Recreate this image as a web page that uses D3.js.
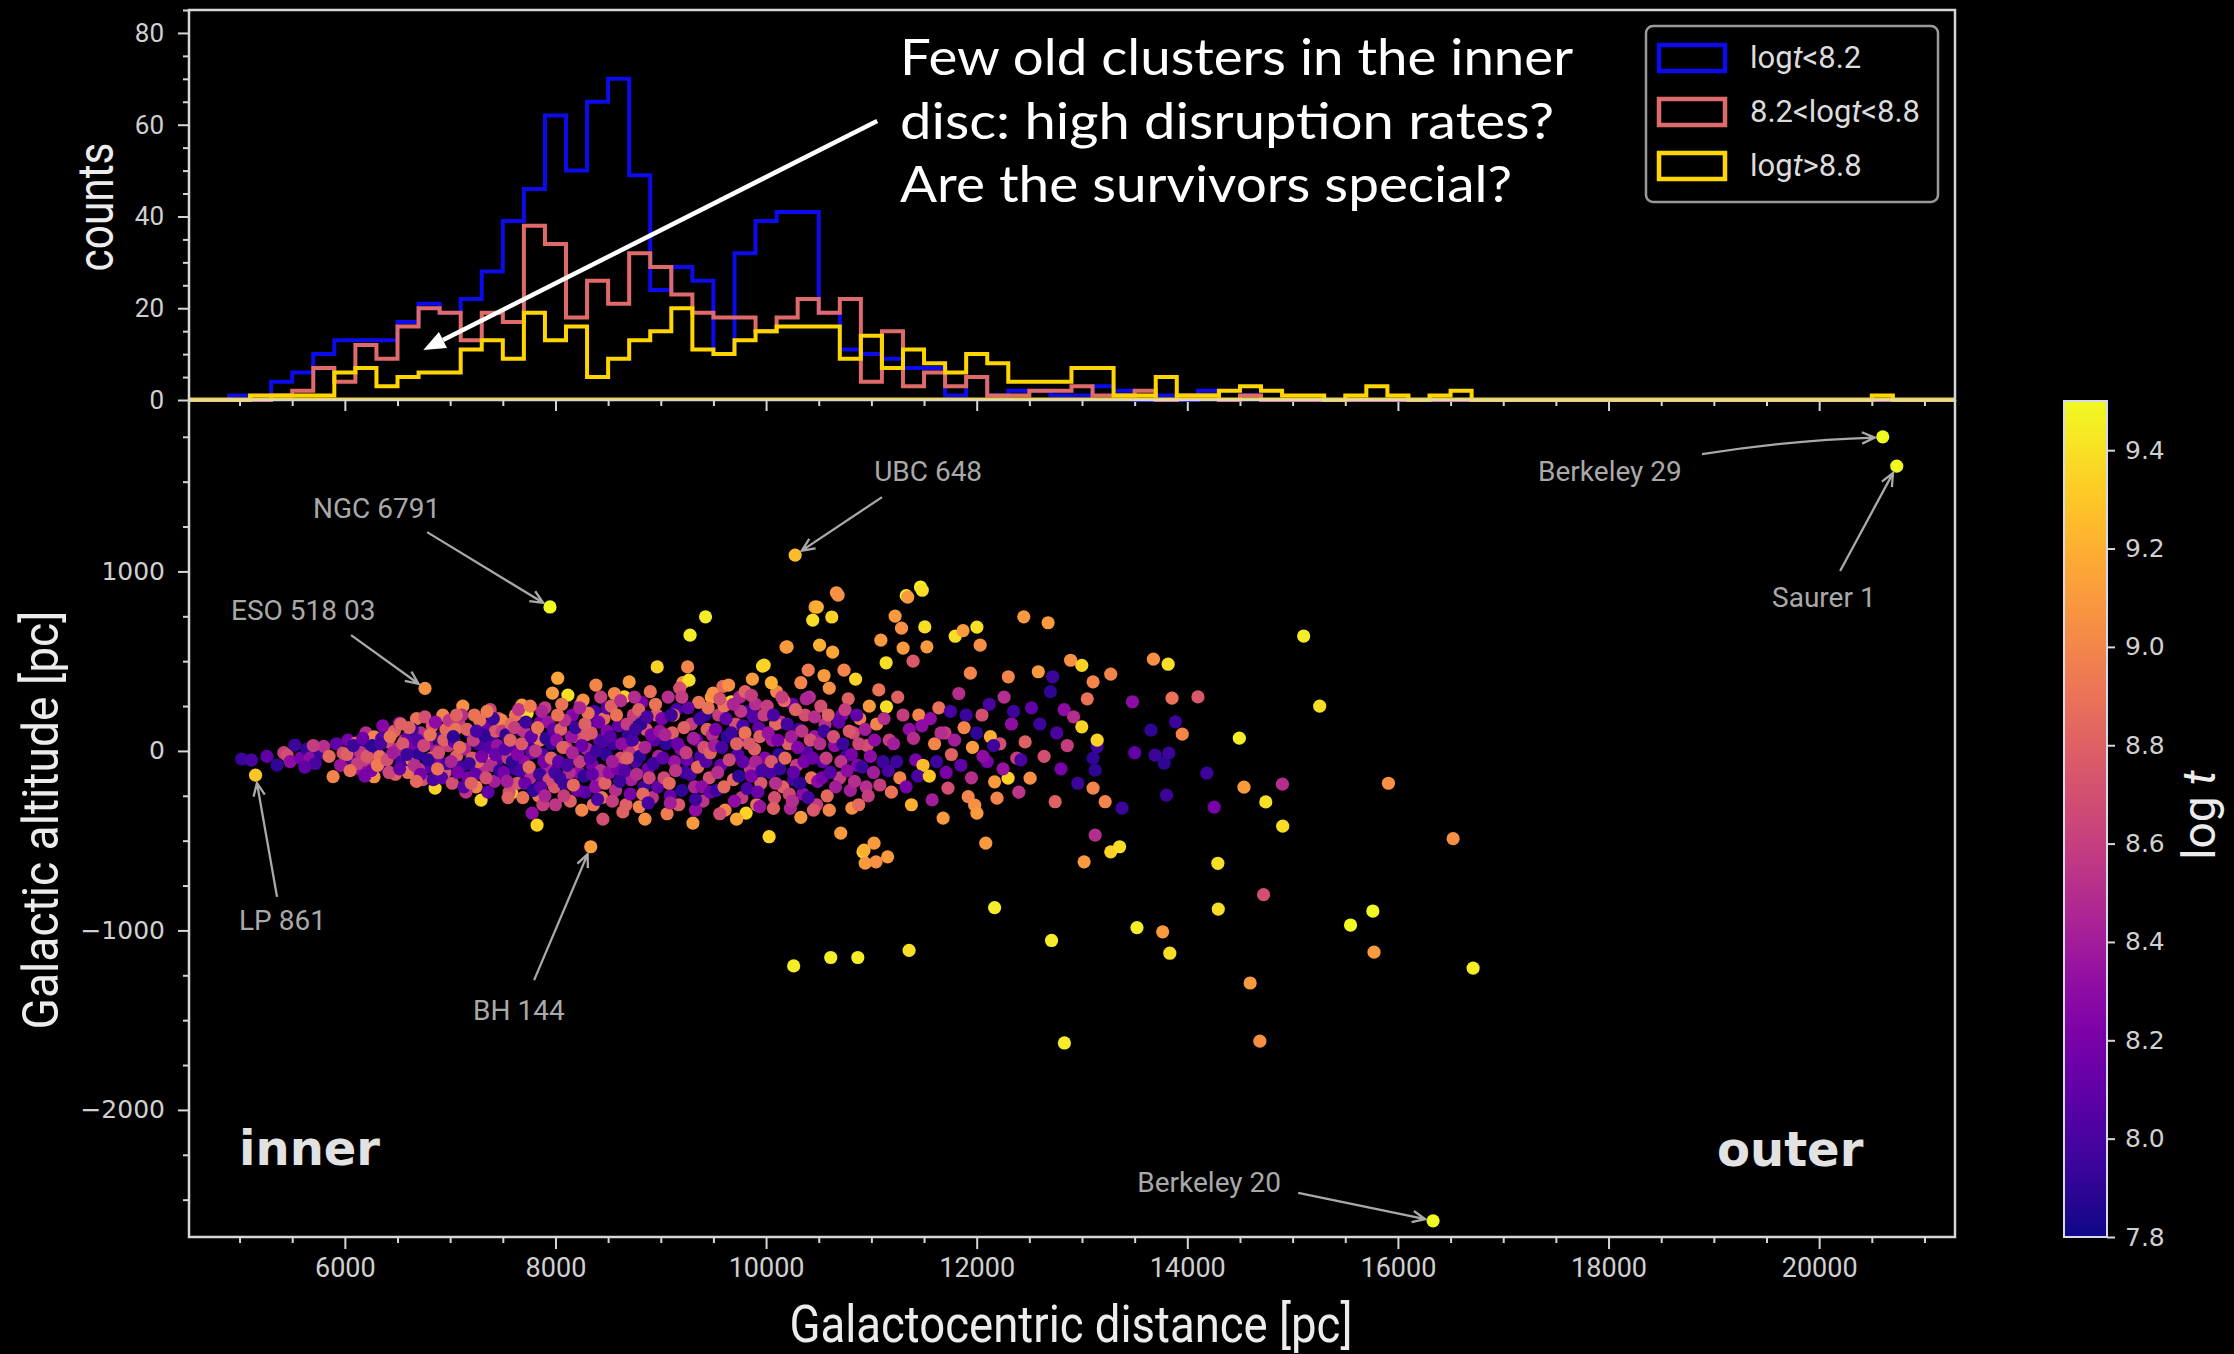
<!DOCTYPE html>
<html>
<head>
<meta charset="utf-8">
<script src="https://cdn.jsdelivr.net/npm/d3@7"></script>
<style>
  html, body { margin: 0; padding: 0; background: #000; }
  svg { display: block; }
</style>
</head>
<body>
<svg id="chart" width="2234" height="1354"></svg>
<script>
// ---------------- histogram of galactocentric distance per age group ----------------
const binStart = 4500, binWidth = 200;
const countsYoung = [0,0,1,1,4,6,10,13,13,13,17,21,19,22,28,39,46,62,50,65,70,49,24,29,26,10,32,39,41,41,19,11,10,9,7,7,1,5,1,2,2,1,1,3,2,0,1,0,2,0,1,
  0,0,0,0,0,0,0,0,0,0,0,0,0,0,0,0,0,0,0,0,0,0,0,0,0,0,0,0,0,0,0,0,0];
const countsMid = [0,0,0,0,1,2,7,4,12,9,16,20,19,13,19,17,38,34,18,26,21,32,29,23,19,18,18,15,18,22,19,22,4,15,3,6,3,5,1,1,2,2,3,1,1,2,0,1,1,0,1,
  0,0,0,0,0,0,0,0,0,0,0,0,0,0,0,0,0,0,0,0,0,0,0,0,0,0,0,0,0,0,0,0,0];
const countsOld = [0,0,0,1,1,1,1,6,7,3,5,6,6,11,13,9,19,13,16,5,9,13,15,20,11,10,13,15,16,16,16,9,14,7,11,8,6,10,8,4,4,4,7,7,1,1,5,1,1,2,3,2,1,1,0,1,3,1,0,1,2,
  0,0,0,0,0,0,0,0,0,0,0,0,0,0,0,0,0,0,0,1,0,0,0];
const histLabels = ["log|t|<8.2", "8.2<log|t|<8.8", "log|t|>8.8"];
const histColors = ["#0b0bec", "#df6a6a", "#ffd500"];

// ---------------- named open clusters: [R (pc), Z (pc), log t] ----------------
const namedClusters = ["NGC 6791", "ESO 518 03", "UBC 648", "LP 861", "BH 144", "Berkeley 29", "Saurer 1", "Berkeley 20"];
const namedR    = [7948, 6761, 10276, 5152, 8335, 20604, 20737, 16334];
const namedZ    = [802, 348, 1091, -135, -534, 1750, 1587, -2618];
const namedLogT = [9.5, 9.05, 9.25, 9.3, 9.1, 9.5, 9.5, 9.5];
// label anchor and arrow tail for each named cluster (data units)
const labelR = [5698, 4919, 11026, 4995, 7218, 17331, 19553, 13525];
const labelZ = [1297, 729, 1503, -998, -1500, 1503, 801, -2457];
const tailR  = [6781, 6059, 11101, 5356, 7797, 18888, 20199, 15053];
const tailZ  = [1219, 645, 1414, -813, -1277, 1653, 1002, -2462];

// ---------------- cluster catalogue: [R (pc), Z (pc), log t] ----------------
const discClusters = [
  // R < 6000
  [5020,-45,7.95],[5113,-51,8.0],[5260,-30,8.1],[5356,-79,7.9],[5420,-10,8.6],[5451,-23,8.7],[5525,32,7.95],[5480,-60,8.3],
  [5580,-40,8.2],[5640,10,7.9],[5670,-40,8.3],[5720,-70,8.0],[5767,-12,7.95],[5800,25,8.5],[5850,-30,8.85],[5888,-143,9.0],
  [5920,40,8.1],[5960,-80,8.35],[5983,-12,8.7],[5700,30,8.6],[5620,-90,8.1],
  // 6000-6500
  [6030,60,8.2],[6060,-40,8.0],[6106,43,8.85],[6140,-100,8.3],[6180,20,7.9],[6200,100,8.5],[6230,-60,8.6],[6277,79,9.0],
  [6277,-144,9.05],[6300,0,8.1],[6330,-30,8.9],[6360,140,8.25],[6380,-90,7.95],[6410,50,8.7],[6440,-20,8.0],[6470,110,8.8],
  [6480,-130,8.8],[6500,10,8.5],[6150,-10,8.55],[6250,-110,8.2],[6350,70,8.05],
  [6020,-20,8.8],[6080,30,7.95],[6120,-70,8.6],[6170,70,8.15],[6210,-30,8.75],[6260,30,7.9],[6310,-80,8.95],[6340,40,8.0],
  [6400,-50,8.7],[6430,80,8.9],[6460,-10,8.4],[6050,-110,8.9],[6190,-140,8.2],[6420,-120,8.65],
  // 6500-7000
  [6518,155,8.3],[6540,-60,8.0],[6570,60,8.6],[6600,-120,8.9],[6638,-51,9.0],[6650,20,8.2],[6680,180,8.9],[6700,-20,7.9],
  [6720,100,8.5],[6740,-160,8.7],[6780,40,8.3],[6800,-90,8.05],[6830,140,8.75],[6857,-207,9.35],[6870,0,8.4],[6900,70,7.95],
  [6930,199,9.0],[6950,-120,8.75],[6980,30,8.6],[6600,80,8.1],[6700,-100,8.55],[6820,-40,8.8],[6900,-60,8.2],[6560,0,8.45],
  [6760,190,8.7],[6640,120,7.95],[6960,120,8.85],
  [6520,-100,8.1],[6550,40,8.75],[6590,-20,7.95],[6610,130,8.8],[6660,-80,8.5],[6690,60,8.05],[6720,-130,8.2],[6750,30,8.65],
  [6790,-50,7.9],[6810,90,8.9],[6840,-160,8.0],[6860,160,8.3],[6890,-10,8.7],[6920,-150,8.05],[6940,60,8.8],[6970,-70,7.95],
  [6990,170,8.55],[6530,150,8.8],[6680,-170,8.85],[6880,-100,8.9],
  // 7000-7500
  [7020,-180,8.7],[7040,50,8.1],[7060,-30,8.8],[7080,160,8.6],[7100,-90,7.95],[7120,250,9.05],[7140,10,8.45],[7170,-150,8.2],
  [7190,100,7.9],[7210,-40,8.75],[7230,200,8.9],[7246,-200,9.0],[7270,40,8.0],[7294,-274,9.35],[7310,-100,8.5],[7330,140,8.15],
  [7350,-20,8.9],[7380,230,8.65],[7400,60,7.95],[7420,-170,8.4],[7440,-60,8.05],[7460,180,8.8],[7487,172,9.0],[7490,0,8.3],
  [7050,120,8.9],[7150,-230,8.55],[7260,-60,8.85],[7360,-230,8.1],[7430,110,8.75],[7110,200,8.5],
  [7010,-60,8.45],[7030,80,7.9],[7070,-120,8.2],[7090,20,8.85],[7130,-200,8.05],[7160,120,8.8],[7180,-70,7.95],[7220,60,8.6],
  [7240,-130,8.1],[7280,170,8.9],[7300,-30,8.2],[7320,90,7.9],[7340,-150,8.7],[7370,20,8.05],[7390,-80,8.5],[7410,180,7.95],
  [7450,30,8.35],[7470,-110,7.9],[7495,110,8.6],[7060,200,8.8],[7200,-180,8.8],[7430,-20,8.15],[7350,220,8.95],[7250,110,8.0],
  // 7500-8000
  [7510,-120,8.2],[7530,90,7.9],[7550,-40,8.6],[7584,-235,9.35],[7600,30,8.1],[7620,200,8.9],[7640,-180,8.75],[7660,120,8.0],
  [7681,255,9.1],[7700,-60,8.3],[7730,210,9.4],[7740,20,7.95],[7760,-150,8.5],[7778,-347,8.3],[7800,80,8.7],[7825,-413,9.35],
  [7840,-250,8.9],[7860,160,8.2],[7880,-20,8.05],[7900,240,8.6],[7920,-100,8.45],[7960,40,7.9],[7971,322,9.1],[7990,-200,8.75],
  [7580,150,8.85],[7620,-100,7.95],[7700,110,8.55],[7780,-10,8.15],[7850,60,8.95],[7930,160,8.35],[7560,-230,8.7],[7690,-260,8.9],
  [7880,-300,8.6],
  [7520,10,8.05],[7540,-170,8.4],[7570,60,8.8],[7590,-60,7.9],[7610,130,8.6],[7640,-20,8.25],[7660,-110,8.0],[7680,40,8.75],
  [7710,-180,8.15],[7720,160,7.95],[7750,-90,8.85],[7770,80,8.1],[7790,-220,7.9],[7810,0,8.55],[7830,130,8.9],[7850,-130,7.95],
  [7870,220,8.45],[7890,-60,8.2],[7910,70,7.9],[7940,-160,8.7],[7960,-40,8.8],[7980,120,8.1],[7995,-120,8.0],[7650,230,8.55],
  [7760,250,8.95],[7860,-200,8.1],[7550,-260,8.8],[7900,-250,8.45],
  // 8000-8500
  [8021,405,9.15],[8030,-60,8.1],[8050,120,8.8],[8080,-180,7.95],[8100,20,8.6],[8118,311,9.4],[8140,-280,8.8],[8160,200,8.25],
  [8180,-30,7.9],[8200,80,8.7],[8220,-120,8.3],[8240,260,8.55],[8262,283,9.05],[8280,-230,8.05],[8300,10,8.45],[8320,150,7.95],
  [8350,-80,8.2],[8370,220,8.0],[8384,367,9.0],[8400,-160,8.65],[8420,60,8.1],[8440,-260,8.9],[8460,180,8.85],[8480,-20,7.9],
  [8060,260,8.9],[8130,-120,8.5],[8210,-220,8.15],[8290,90,8.75],[8360,-300,8.9],[8430,300,8.6],[8490,110,8.25],[8000,-300,8.55],
  [8250,-330,9.0],[8450,-380,8.7],
  [8010,60,8.3],[8040,-150,7.95],[8070,20,8.8],[8090,170,8.5],[8110,-80,8.0],[8150,80,8.35],[8170,-190,8.85],[8190,130,7.95],
  [8230,-60,8.6],[8250,30,8.15],[8270,-140,7.9],[8310,210,8.9],[8330,-40,8.05],[8340,100,8.75],[8380,-200,8.3],[8390,0,7.95],
  [8410,160,8.2],[8430,-110,8.5],[8450,50,8.0],[8470,-180,8.8],[8490,240,8.05],[8080,-250,8.6],[8160,-10,8.45],[8280,150,8.8],
  [8400,-270,8.0],[8020,200,8.9],[8230,240,8.45],[8350,-130,8.1],
  // 8500-9000
  [8510,-120,8.3],[8530,250,8.8],[8550,40,7.95],[8570,-220,8.5],[8600,140,8.1],[8620,-40,8.7],[8654,301,9.35],[8670,-300,8.8],
  [8690,90,7.9],[8700,385,9.1],[8720,-160,8.4],[8740,200,8.6],[8760,-60,8.0],[8780,20,8.85],[8796,-311,9.0],[8820,270,8.2],
  [8840,-200,7.95],[8860,120,8.75],[8880,-100,8.15],[8900,330,8.9],[8920,-260,8.55],[8940,60,8.05],[8966,468,9.35],[8980,-30,8.45],
  [8560,320,9.0],[8640,-340,8.8],[8750,300,8.5],[8850,-380,9.05],[8960,200,8.8],[8590,-100,8.2],[8810,150,7.9],[8700,-10,8.55],
  [8520,80,8.05],[8540,-60,8.4],[8580,200,8.9],[8610,-170,7.95],[8630,40,8.3],[8660,-110,8.05],[8680,150,8.6],[8710,-240,8.2],
  [8730,60,8.0],[8770,-130,8.5],[8790,230,8.8],[8800,-30,7.9],[8830,-240,8.85],[8850,20,8.45],[8870,190,8.0],[8890,-150,8.65],
  [8910,90,8.2],[8930,-70,7.95],[8950,260,8.9],[8970,-200,8.1],[8990,110,8.35],[8540,-280,8.6],[8680,-40,8.8],[8760,120,7.95],
  [8880,-290,8.0],[8620,280,8.5],
  // 9000-9500
  [9010,180,8.2],[9030,-150,8.65],[9050,40,7.9],[9070,300,8.5],[9090,-250,8.1],[9110,100,8.8],[9130,-60,8.35],[9150,230,8.0],
  [9170,-300,8.75],[9190,10,8.25],[9210,380,9.05],[9230,-120,7.95],[9255,468,9.0],[9268,394,9.4],[9278,645,9.45],[9290,150,8.6],
  [9305,-402,9.1],[9320,-200,8.45],[9340,60,8.15],[9360,270,8.9],[9380,-30,8.0],[9400,-280,8.55],[9425,747,9.45],[9440,120,8.8],
  [9460,-150,8.7],[9480,300,9.1],[9497,322,9.05],[9060,-350,8.95],[9180,350,8.7],[9330,-330,8.3],[9420,200,7.9],[9120,200,8.9],
  [9250,-50,8.15],
  [9020,-40,8.1],[9040,90,8.45],[9080,-180,8.85],[9100,200,7.95],[9140,-110,8.55],[9160,40,8.15],[9200,-220,7.9],[9220,130,8.8],
  [9240,-10,8.6],[9260,240,8.1],[9280,-130,8.0],[9310,70,8.4],[9350,-90,8.85],[9370,180,7.95],[9390,-200,8.3],[9410,20,8.7],
  [9430,-60,8.05],[9450,240,8.9],[9470,-230,8.15],[9490,90,8.5],[9090,-290,8.4],[9200,300,8.6],[9330,-270,7.95],[9470,-10,8.8],
  // 9500-10000
  [9510,30,8.4],[9530,-220,7.95],[9550,200,8.6],[9570,-80,8.15],[9590,360,8.85],[9610,-330,9.0],[9630,80,7.9],[9644,367,9.05],
  [9668,274,9.35],[9690,-160,8.85],[9710,150,8.7],[9730,-20,8.05],[9750,300,8.45],[9770,-260,8.6],[9790,60,8.2],[9810,-347,9.35],
  [9830,220,7.95],[9850,-100,8.55],[9870,400,9.1],[9890,10,8.8],[9910,-300,8.9],[9930,130,8.1],[9950,-180,8.75],[9967,472,9.4],
  [9982,478,9.35],[9990,-40,8.25],[9560,-350,8.7],[9720,-380,9.15],[9800,330,8.8],[9900,260,8.5],[9600,250,8.9],[9780,140,8.0],
  [9520,120,8.2],[9540,-120,8.5],[9580,20,8.0],[9600,-200,8.85],[9620,180,8.1],[9650,-50,8.65],[9670,100,7.95],[9700,-280,8.3],
  [9720,40,8.8],[9740,-140,7.9],[9760,220,8.55],[9780,-60,8.1],[9800,100,8.9],[9820,-210,8.0],[9840,40,8.75],[9860,-140,8.2],
  [9880,190,8.05],[9900,-60,8.45],[9920,-230,8.15],[9940,80,8.8],[9960,-110,8.0],[9980,200,8.6],[9560,290,8.7],[9690,260,8.45],
  [9860,310,8.6],[9940,-310,8.35],
  // 10000-10500
  [10010,250,8.6],[10029,-478,9.35],[10040,-120,8.0],[10060,60,8.4],[10080,-260,8.7],[10100,330,9.0],[10120,-20,7.9],[10140,160,8.55],
  [10160,-200,8.8],[10190,578,9.05],[10200,580,9.1],[10210,40,8.8],[10230,-320,8.45],[10250,260,8.15],[10290,-80,8.6],[10310,120,7.95],
  [10330,380,9.0],[10350,-240,8.3],[10370,200,8.7],[10390,-10,8.05],[10410,300,8.5],[10443,729,9.4],[10465,802,9.1],[10486,801,9.2],
  [10430,-150,8.9],[10460,80,8.35],[10480,-300,8.6],[10050,380,9.2],[10170,280,8.85],[10330,-370,9.1],[10400,450,8.95],[10090,150,8.85],
  [10260,-160,8.0],
  [10020,100,8.35],[10050,-60,8.75],[10070,200,8.0],[10090,-180,8.5],[10110,60,8.2],[10130,-100,7.95],[10150,300,8.6],[10180,-40,8.85],
  [10200,150,8.0],[10220,-240,8.65],[10240,80,8.4],[10260,-120,8.1],[10280,230,8.8],[10300,20,8.25],[10320,-180,7.9],[10340,110,8.55],
  [10360,-60,8.2],[10380,290,8.45],[10400,-260,8.0],[10420,60,8.7],[10440,-40,8.15],[10460,190,8.5],[10490,-170,8.3],[10070,-320,8.8],
  [10250,-280,8.5],[10450,-330,8.75],
  // 10500-11000
  [10508,589,9.2],[10520,250,8.7],[10540,-60,8.1],[10560,150,8.5],[10580,-250,8.85],[10600,350,9.05],[10624,746,9.35],[10632,550,9.15],
  [10650,30,8.3],[10668,881,9.1],[10684,868,9.05],[10700,-150,8.6],[10709,-458,9.1],[10720,200,8.2],[10740,450,9.0],[10760,-30,7.95],
  [10780,290,8.8],[10800,-220,8.4],[10815,-319,9.05],[10830,100,8.65],[10850,400,9.35],[10870,-80,8.25],[10890,180,8.95],[10920,-562,9.35],
  [10930,-553,9.2],[10941,-625,9.1],[10960,30,8.7],[10980,250,9.1],[10600,-330,9.0],[10880,-300,8.85],[10550,420,9.1],[10950,-200,8.5],
  [10510,40,8.5],[10530,-150,8.2],[10550,110,7.95],[10570,-40,8.6],[10590,200,8.8],[10610,-120,8.05],[10640,80,8.7],[10660,-200,8.4],
  [10690,160,8.1],[10710,-60,8.55],[10730,40,7.95],[10750,230,8.6],[10770,-110,8.3],[10790,110,8.75],[10810,-20,8.2],[10840,-170,8.5],
  [10860,200,8.1],[10880,40,8.65],[10910,-90,7.95],[10940,120,8.4],[10970,-250,8.6],[10990,-30,8.3],
  // 11000-11500
  [11025,-514,9.1],[11044,-618,9.05],[11020,-120,8.4],[11050,150,9.0],[11070,340,8.9],[11090,617,9.1],[11110,-60,7.95],[11140,491,9.4],
  [11154,-590,9.1],[11143,246,9.4],[11170,60,8.6],[11190,-230,8.9],[11225,751,9.1],[11250,300,8.8],[11270,-150,9.0],[11286,684,9.05],
  [11301,573,9.1],[11331,865,9.45],[11345,857,9.1],[11360,120,8.3],[11380,-300,9.2],[11396,500,8.75],[11420,-50,8.2],[11450,200,9.0],
  [11466,913,9.45],[11483,895,9.4],[11490,-80,9.25],
  [11030,60,8.3],[11080,-190,8.6],[11120,180,8.5],[11160,-110,8.0],[11210,40,8.4],[11240,-60,7.95],[11300,200,8.6],[11330,-200,8.2],
  [11400,70,8.5],[11440,-140,8.0],[11480,140,8.3],
  // 11500-12500
  [11507,691,9.4],[11527,580,9.1],[11550,-140,9.3],[11577,-273,8.4],[11600,40,9.0],[11640,240,8.9],[11681,-374,9.1],[11700,100,8.6],
  [11727,-207,8.7],[11760,-20,8.8],[11796,639,9.4],[11830,320,8.5],[11870,670,9.1],[11880,130,9.0],[11919,-255,9.0],[11940,433,9.0],
  [11960,20,9.1],[11981,-302,9.05],[12002,690,9.4],[12002,-347,9.1],[12033,589,9.05],[12050,200,8.7],[12086,-514,9.1],[12100,-60,8.2],
  [12130,80,9.2],[12170,-172,9.1],[12193,-263,9.0],[12220,40,8.7],[12260,300,8.5],[12298,-152,9.35],[12300,413,9.0],[12330,150,8.3],
  [12380,-40,8.6],[12400,-230,8.55],[12447,747,9.1],[12460,50,8.8],[12507,-152,9.05],[12520,240,8.1],
  [11560,180,8.3],[11620,-60,7.95],[11660,100,8.5],[11710,-120,8.2],[11750,220,8.0],[11790,60,8.4],[11850,-80,8.1],[11900,200,7.95],
  [11950,-150,8.5],[12000,100,7.9],[12060,-30,8.3],[12120,260,8.0],[12160,30,7.95],[12250,-100,8.35],[12350,220,7.95],[12420,-50,8.0],
  // 12500-13500
  [12585,441,9.1],[12600,150,7.95],[12640,-30,8.7],[12678,714,9.1],[12700,330,7.9],[12722,413,7.95],[12745,-283,8.8],[12760,100,8.0],
  [12800,-100,8.2],[12830,230,8.3],[12860,30,8.6],[12892,505,9.05],[12920,190,8.5],[12960,-180,7.95],[12998,477,9.35],[12998,134,9.35],
  [13020,-618,9.1],[13050,290,8.9],[13105,385,9.0],[13105,-40,7.9],[13144,23,7.95],[13125,-107,7.9],[13105,-207,9.0],[13144,60,9.35],
  [13125,-469,8.5],[13220,-283,9.0],[13273,428,9.0],[13273,-562,9.35],[13357,-534,9.4],[13380,-319,7.95],[13479,274,8.3],[13500,-10,8.1],
  // 13500-14500
  [13655,116,7.9],[13678,511,9.05],[13694,-23,7.95],[13780,-68,7.9],[13803,-246,7.95],[13818,483,9.4],[13824,-12,7.95],[13855,294,8.9],
  [13888,162,7.95],[13952,94,9.0],[14101,301,8.75],[14185,-124,7.95],[14255,-313,8.2],[14290,-626,9.4],[14494,71,9.45],[14538,-202,9.1],
  // outer disc and high-altitude clusters
  [14745,-284,9.4],[14903,-185,8.5],[14906,-419,9.4],[15105,640,9.45],[15257,250,9.4],[15910,-180,9.05],[16524,-489,9.05],
  [14724,-801,8.7],[14294,-881,9.4],[15762,-892,9.5],[15550,-970,9.5],[15773,-1121,9.1],[16714,-1210,9.45],[14689,-1617,9.05],
  [14597,-1293,9.1],[10262,-1198,9.45],[10614,-1151,9.45],[10871,-1151,9.45],[11358,-1111,9.4],[12170,-873,9.45],[12711,-1056,9.45],
  [12833,-1627,9.45],[13522,-984,9.45],[13766,-1008,9.1],[13834,-1127,9.4]
];

// ---------------- layout ----------------
const W = 2234, H = 1354;
const plotLeft = 189, plotRight = 1955;
const histTop = 10, histBottom = 400, scatTop = 400, scatBottom = 1237;
const cbLeft = 2064, cbWidth = 43;

const axisColor = "#d6d6d6";
const tickText = "#d0d0d0";
const narrowFont = "Roboto, 'Liberation Sans', sans-serif";
const wideFont = "'DejaVu Sans', Verdana, sans-serif";

const x = d3.scaleLinear().domain([4520, 21290]).range([plotLeft, plotRight]);
const yHist = d3.scaleLinear().domain([0, 85]).range([histBottom, histTop]);
const yScat = d3.scaleLinear().domain([-2708, 1955]).range([scatBottom, scatTop]);
const yCb = d3.scaleLinear().domain([7.8, 9.5]).range([scatBottom, scatTop + 1]);
const color = d3.scaleSequential(d3.interpolatePlasma).domain([7.8, 9.5]).clamp(true);

const svg = d3.select("#chart");
svg.append("rect").attr("width", W).attr("height", H).attr("fill", "#000");
const defs = svg.append("defs");

defs.append("clipPath").attr("id", "histClip").append("rect")
  .attr("x", plotLeft).attr("y", histTop - 2).attr("width", plotRight - plotLeft).attr("height", histBottom - histTop + 4);
defs.append("clipPath").attr("id", "scatClip").append("rect")
  .attr("x", plotLeft).attr("y", scatTop).attr("width", plotRight - plotLeft).attr("height", scatBottom - scatTop);

// ---------------- axes helpers ----------------
function styleAxis(g, fontFamily, fontSize) {
  g.select(".domain").remove();
  g.selectAll(".tick line").attr("stroke", axisColor).attr("stroke-width", 2);
  g.selectAll(".tick text").attr("fill", tickText).attr("font-family", fontFamily).attr("font-size", fontSize);
}
const xMajor = d3.range(6000, 20001, 2000);
const xMinor = d3.range(5000, 21001, 500).filter(v => v % 2000 !== 0);

// histogram x ticks (no labels) pointing into the lower panel
svg.append("g").attr("transform", `translate(0,${histBottom})`)
  .call(d3.axisBottom(x).tickValues(xMinor).tickSize(6).tickFormat(""))
  .call(g => styleAxis(g, narrowFont, 27));
svg.append("g").attr("transform", `translate(0,${histBottom})`)
  .call(d3.axisBottom(x).tickValues(xMajor).tickSize(11).tickFormat(""))
  .call(g => styleAxis(g, narrowFont, 27));

// scatter x axis
svg.append("g").attr("transform", `translate(0,${scatBottom})`)
  .call(d3.axisBottom(x).tickValues(xMinor).tickSize(6).tickFormat(""))
  .call(g => styleAxis(g, narrowFont, 27));
svg.append("g").attr("transform", `translate(0,${scatBottom})`)
  .call(d3.axisBottom(x).tickValues(xMajor).tickSize(12).tickPadding(9).tickFormat(d3.format("d")))
  .call(g => styleAxis(g, narrowFont, 27));

// histogram y axis
svg.append("g").attr("transform", `translate(${plotLeft},0)`)
  .call(d3.axisLeft(yHist).tickValues(d3.range(5, 86, 5).filter(v => v % 20 !== 0)).tickSize(6).tickFormat(""))
  .call(g => styleAxis(g, narrowFont, 26));
svg.append("g").attr("transform", `translate(${plotLeft},0)`)
  .call(d3.axisLeft(yHist).tickValues(d3.range(0, 81, 20)).tickSize(11).tickPadding(14).tickFormat(d3.format("d")))
  .call(g => styleAxis(g, narrowFont, 26));

// scatter y axis
svg.append("g").attr("transform", `translate(${plotLeft},0)`)
  .call(d3.axisLeft(yScat).tickValues(d3.range(-2500, 1751, 250).filter(v => v % 1000 !== 0)).tickSize(6).tickFormat(""))
  .call(g => styleAxis(g, wideFont, 25));
svg.append("g").attr("transform", `translate(${plotLeft},0)`)
  .call(d3.axisLeft(yScat).tickValues([-2000, -1000, 0, 1000]).tickSize(11).tickPadding(13)
    .tickFormat(v => (v < 0 ? "\u2212" : "") + Math.abs(v)))
  .call(g => styleAxis(g, wideFont, 25));

// ---------------- scatter of clusters ----------------
const allClusters = discClusters.concat(namedClusters.map((n, i) => [namedR[i], namedZ[i], namedLogT[i]]));
svg.append("g").attr("clip-path", "url(#scatClip)")
  .selectAll("circle").data(allClusters).join("circle")
  .attr("cx", d => x(d[0])).attr("cy", d => yScat(d[1])).attr("r", 6.6)
  .attr("fill", d => color(d[2]));

// ---------------- histogram step outlines ----------------
function stepPoints(counts) {
  const pts = [[binStart, 0]];
  counts.forEach((c, i) => {
    pts.push([binStart + i * binWidth, c]);
    pts.push([binStart + (i + 1) * binWidth, c]);
  });
  pts.push([binStart + counts.length * binWidth, 0]);
  return pts;
}
const stepLine = d3.line().x(d => x(d[0])).y(d => yHist(d[1]));
const histG = svg.append("g").attr("clip-path", "url(#histClip)");
[countsYoung, countsMid, countsOld].forEach((counts, i) => {
  histG.append("path").attr("d", stepLine(stepPoints(counts)))
    .attr("fill", "none").attr("stroke", histColors[i]).attr("stroke-width", 4)
    .attr("stroke-linejoin", "miter");
});

// ---------------- frames ----------------
svg.append("rect").attr("x", plotLeft).attr("y", histTop).attr("width", plotRight - plotLeft).attr("height", histBottom - histTop)
  .attr("fill", "none").attr("stroke", axisColor).attr("stroke-width", 2.5);
svg.append("path").attr("d", `M${plotLeft},${scatTop}V${scatBottom}H${plotRight}V${scatTop}`)
  .attr("fill", "none").attr("stroke", axisColor).attr("stroke-width", 2.5);
// zero line of the histogram drawn over the shared edge
histG.append("line").attr("x1", plotLeft).attr("x2", plotRight).attr("y1", yHist(0) - 1).attr("y2", yHist(0) - 1)
  .attr("stroke", histColors[2]).attr("stroke-width", 3);

// ---------------- legend ----------------
const legend = svg.append("g");
legend.append("rect").attr("x", 1646).attr("y", 26).attr("width", 292).attr("height", 176).attr("rx", 7)
  .attr("fill", "#000").attr("stroke", "#9a9a9a").attr("stroke-width", 2.5);
histLabels.forEach((lab, i) => {
  const y0 = 45 + i * 54;
  legend.append("rect").attr("x", 1659).attr("y", y0).attr("width", 66).attr("height", 26)
    .attr("fill", "none").attr("stroke", histColors[i]).attr("stroke-width", 4.5);
  const t = legend.append("text").attr("x", 1750).attr("y", y0 + 23)
    .attr("fill", "#dcdcdc").attr("font-family", narrowFont).attr("font-size", 31);
  lab.split("|").forEach((part, k) => {
    t.append("tspan").text(part).attr("font-style", k === 1 ? "italic" : "normal");
  });
});

// ---------------- main annotation ----------------
const noteLines = ["Few old clusters in the inner", "disc: high disruption rates?", "Are the survivors special?"];
const noteWidths = [673, 654, 612];
const noteR = 11272, noteCount = 70.8;
noteLines.forEach((line, i) => {
  svg.append("text").attr("x", x(noteR)).attr("y", yHist(noteCount) + i * 63.5)
    .attr("fill", "#ffffff").attr("font-family", "Lato, 'Open Sans', sans-serif").attr("font-size", 51)
    .attr("textLength", noteWidths[i]).attr("lengthAdjust", "spacingAndGlyphs")
    .text(line);
});
{
  const x1 = x(11055), y1 = yHist(60.8), x2 = x(6745), y2 = yHist(10.9);
  const ang = Math.atan2(y2 - y1, x2 - x1);
  const hl = 22, hw = 9;
  const bx = x2 - hl * Math.cos(ang), by = y2 - hl * Math.sin(ang);
  svg.append("line").attr("x1", x1).attr("y1", y1).attr("x2", bx).attr("y2", by)
    .attr("stroke", "#fff").attr("stroke-width", 4.5);
  svg.append("path")
    .attr("d", `M${x2},${y2}L${bx + hw * Math.sin(ang)},${by - hw * Math.cos(ang)}L${bx - hw * Math.sin(ang)},${by + hw * Math.cos(ang)}Z`)
    .attr("fill", "#fff");
}

// ---------------- named cluster labels ----------------
const annoColor = "#a9a9a9";
namedClusters.forEach((name, i) => {
  svg.append("text").attr("x", x(labelR[i])).attr("y", yScat(labelZ[i]))
    .attr("fill", annoColor).attr("font-family", narrowFont).attr("font-size", 28).text(name);
  const x1 = x(tailR[i]), y1 = yScat(tailZ[i]);
  const px = x(namedR[i]), py = yScat(namedZ[i]);
  const dist = Math.hypot(px - x1, py - y1);
  const shrink = 8;
  let x2 = px - (px - x1) / dist * shrink, y2 = py - (py - y1) / dist * shrink;
  let d, ang;
  if (name === "Berkeley 29") {
    const cx = (x1 + x2) / 2 + 2, cy = (y1 + y2) / 2 - 6;
    d = `M${x1},${y1}Q${cx},${cy} ${x2},${y2}`;
    ang = Math.atan2(y2 - cy, x2 - cx);
  } else {
    d = `M${x1},${y1}L${x2},${y2}`;
    ang = Math.atan2(y2 - y1, x2 - x1);
  }
  const hl = 14, spread = 0.42;
  const h1x = x2 - hl * Math.cos(ang - spread), h1y = y2 - hl * Math.sin(ang - spread);
  const h2x = x2 - hl * Math.cos(ang + spread), h2y = y2 - hl * Math.sin(ang + spread);
  svg.append("path").attr("d", d + `M${h1x},${h1y}L${x2},${y2}L${h2x},${h2y}`)
    .attr("fill", "none").attr("stroke", annoColor).attr("stroke-width", 2.3);
});

// ---------------- inner / outer markers ----------------
svg.append("text").attr("x", 239).attr("y", 1165).text("inner")
  .attr("fill", "#e2e2e2").attr("font-family", wideFont).attr("font-weight", "bold").attr("font-size", 48);
svg.append("text").attr("x", 1717).attr("y", 1166).text("outer")
  .attr("fill", "#e2e2e2").attr("font-family", wideFont).attr("font-weight", "bold").attr("font-size", 48);

// ---------------- axis titles ----------------
svg.append("text").attr("transform", "translate(113,207) rotate(-90)").attr("text-anchor", "middle")
  .attr("fill", "#ececec").attr("font-family", narrowFont).attr("font-size", 50)
  .attr("textLength", 129).attr("lengthAdjust", "spacingAndGlyphs").text("counts");
svg.append("text").attr("transform", "translate(58,820) rotate(-90)").attr("text-anchor", "middle")
  .attr("fill", "#ececec").attr("font-family", narrowFont).attr("font-size", 50)
  .attr("textLength", 419).attr("lengthAdjust", "spacingAndGlyphs").text("Galactic altitude [pc]");
svg.append("text").attr("x", 1071).attr("y", 1342).attr("text-anchor", "middle")
  .attr("fill", "#ececec").attr("font-family", narrowFont).attr("font-size", 52)
  .attr("textLength", 563).attr("lengthAdjust", "spacingAndGlyphs").text("Galactocentric distance [pc]");

// ---------------- colour bar ----------------
const grad = defs.append("linearGradient").attr("id", "plasmaGrad")
  .attr("x1", 0).attr("y1", 1).attr("x2", 0).attr("y2", 0);
d3.range(0, 1.0001, 0.05).forEach(t => {
  grad.append("stop").attr("offset", t).attr("stop-color", d3.interpolatePlasma(t));
});
svg.append("rect").attr("x", cbLeft).attr("y", yCb(9.5)).attr("width", cbWidth).attr("height", yCb(7.8) - yCb(9.5))
  .attr("fill", "url(#plasmaGrad)").attr("stroke", "#d8d8e8").attr("stroke-width", 2);
svg.append("g").attr("transform", `translate(${cbLeft + cbWidth},0)`)
  .call(d3.axisRight(yCb).tickValues(d3.range(7.8, 9.41, 0.2)).tickSize(8).tickPadding(10).tickFormat(d3.format(".1f")))
  .call(g => styleAxis(g, wideFont, 25));
const cbTitle = svg.append("text").attr("transform", "translate(2215,815) rotate(-90)").attr("text-anchor", "middle")
  .attr("fill", "#ececec").attr("font-family", narrowFont).attr("font-size", 46);
cbTitle.append("tspan").text("log ");
cbTitle.append("tspan").attr("font-style", "italic").text("t");
</script>
</body>
</html>
